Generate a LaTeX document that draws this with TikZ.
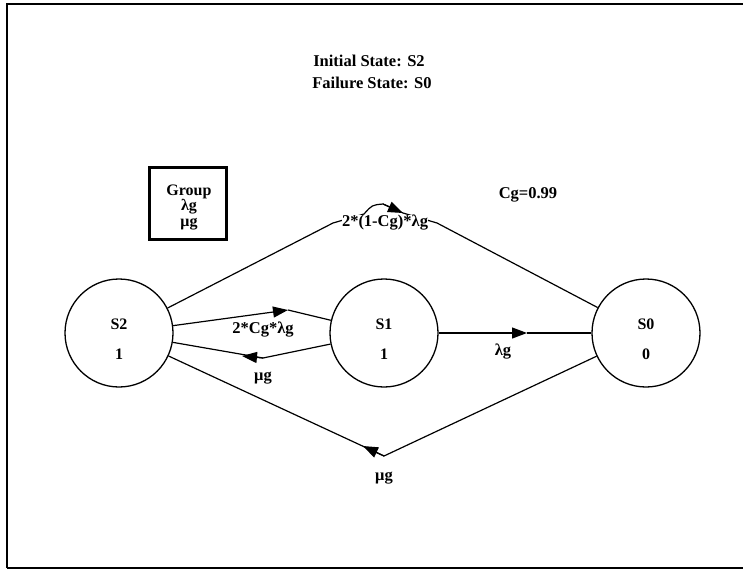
\documentclass[tikz,border=0pt]{standalone}
\usepackage{fontspec}
\setmainfont{Liberation Serif}
\usetikzlibrary{arrows.meta,calc}
\begin{document}
\begin{tikzpicture}[x=1pt,y=-1pt,
  state/.style={circle,draw,line width=1.3pt,minimum size=108pt,inner sep=0pt},
  stxt/.style={align=center,inner sep=0pt,font=\bfseries\fontsize{16}{30}\selectfont},
  lbl/.style={font=\bfseries\fontsize{16.5}{18}\selectfont,inner sep=1pt},
  edge/.style={line width=1.2pt},
  arr/.style={edge,-{Triangle[length=15pt,width=11pt]}}]
\useasboundingbox (0,0) rectangle (743,573);
% frame
\draw[line width=2.5pt] (7,568) -- (7,4) -- (760,4);
\draw[line width=2pt] (7,568) -- (760,568);
% titles
\node[lbl] (t1) at (369,61) {Initial State: S2};
\node[lbl] (t2) at (372,83) {Failure State: S0};
\node[lbl] (cg) at (528,195) {Cg=0.99};
% group box
\node[draw,line width=3pt,minimum width=77pt,minimum height=72pt] (grp) at (188,203) {};
\node[align=center,font=\bfseries\fontsize{16}{15.5}\selectfont,inner sep=0pt] (grpt) at (189,207) {Group\\λg\\μg};
% states
\node[state] (S2) at (119,333) {};
\node[state] (S1) at (384,333) {};
\node[state] (S0) at (646,333) {};
\node[stxt] (S2t) at (119,339) {S2\\1};
\node[stxt] (S1t) at (384,339) {S1\\1};
\node[stxt] (S0t) at (646,339) {S0\\0};
% coordinates
\coordinate (tA) at (333,223);
\coordinate (tB) at (437,223);
\coordinate (c1) at (364,214);
\coordinate (c2) at (383,204);
\coordinate (c3) at (403,213);
\coordinate (a1) at (288,310);
\coordinate (a2) at (263,358);
\coordinate (m2) at (242,356);
\coordinate (m3) at (527,333);
\coordinate (a4) at (384,456);
\coordinate (m4) at (363,446);
% S2 -> S0 (top)
\draw[edge] (S2) -- (tA) -- (c1) .. controls (372,205) .. (c2) -- (c3) -- (tB) -- (S0);
\node[lbl,fill=white,inner sep=0pt] (l1) at (385,223) {2*(1-Cg)*λg};
\draw[arr] (c2) -- (c3);
% S2 -> S1
\draw[arr] (S2) -- (a1);
\draw[edge] (a1) -- (S1);
\node[lbl] (l2) at (263,330) {2*Cg*λg};
% S1 -> S2
\draw[edge] (S1) -- (a2) -- (S2);
\draw[arr] (a2) -- (m2);
\node[lbl] (l3) at (263,378) {μg};
% S1 -> S0
\draw[arr] (S1) -- (m3);
\draw[edge] (m3) -- (S0);
\node[lbl] (l4) at (503,352) {λg};
% S0 -> S2 (bottom)
\draw[edge] (S0) -- (a4) -- (S2);
\draw[arr] (a4) -- (m4);
\node[lbl] (l5) at (384,478) {μg};
\end{tikzpicture}
\end{document}
